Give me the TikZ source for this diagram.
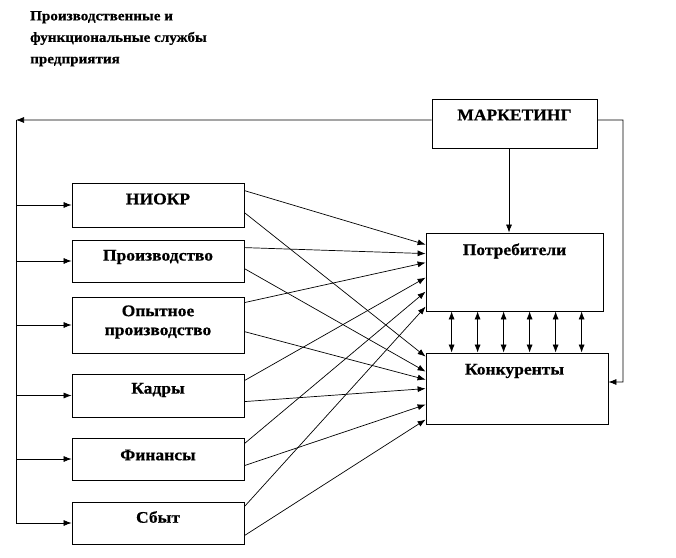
\documentclass[tikz,border=0pt]{standalone}
\usepackage{fontspec}
\setmainfont{Liberation Serif}
\newfontfamily\wideserif[FakeStretch=1.08,BoldFeatures={FakeBold=0.6}]{Liberation Serif}
\usetikzlibrary{arrows.meta}
\tikzset{
  box/.style={draw, line width=0.8bp, minimum width=172bp, minimum height=44bp, inner sep=0pt},
  lbl/.style={font=\wideserif\bfseries\fontsize{16.2bp}{19bp}\selectfont, align=center, inner sep=0pt},
  ttl/.style={font=\wideserif\bfseries\fontsize{14bp}{21.5bp}\selectfont, align=left, inner sep=0pt, anchor=north west},
  ln/.style={line width=0.7bp},
  arr/.style={line width=0.7bp, -{Latex[length=8bp,width=6bp]}},
  darr/.style={line width=0.7bp, {Latex[length=8bp,width=6bp]}-{Latex[length=8bp,width=6bp]}},
}
\begin{document}
\begin{tikzpicture}[x=1bp,y=-1bp]
\useasboundingbox (0,0) rectangle (676,558);
\node[ttl] (title) at (30,11) {Производственные и\\функциональные службы\\предприятия};

\node[box, minimum width=165bp, minimum height=49bp] (mkt) at (514.5,123.5) {};
\node[lbl] (mktt) at (514.5,115) {МАРКЕТИНГ};

\node[box, minimum width=177bp, minimum height=78bp] (potr) at (514.5,272) {};
\node[lbl] (potrt) at (514.5,251) {Потребители};
\node[box, minimum width=182bp, minimum height=71bp] (konk) at (517,388.5) {};
\node[lbl] (konkt) at (514.5,371) {Конкуренты};

\node[box] (niokr) at (158,205) {};
\node[lbl] at (158,199) {НИОКР};
\node[box, minimum height=42bp] (proizv) at (158,261) {};
\node[lbl] at (158,257) {Производство};
\node[box, minimum height=56bp] (opyt) at (158,325) {};
\node[lbl] at (158,322) {Опытное\\производство};
\node[box, minimum height=43bp] (kadry) at (158,395.5) {};
\node[lbl] at (158,390) {Кадры};
\node[box, minimum height=42bp] (fin) at (158,459) {};
\node[lbl] at (158,455) {Финансы};
\node[box, minimum height=42bp] (sbyt) at (158,523) {};
\node[lbl] at (158,517) {Сбыт};

% marketing feedback lines
\coordinate (lt) at (16,120);
\coordinate (lb) at (16,523);
\coordinate (rt) at (623,120);
\coordinate (rb) at (623,382);
\draw[arr] ([yshift=3.5bp]mkt.west) -- (lt);
\draw[ln] (lt) -- (lb);
\draw[arr] ([yshift=3.5bp]mkt.east) -- (rt) -- (rb) -- (rb -| konk.east);
\draw[arr] ([xshift=-5.5bp]mkt.south) -- ([xshift=-5.5bp]mkt.south |- potr.north);

\foreach \b in {niokr,proizv,opyt,kadry,fin,sbyt}
  \draw[arr] (lt |- \b.west) -- (\b.west);

% to consumers / competitors
\draw[arr] ([yshift=-8bp]niokr.north east) -- ([yshift=-12bp]potr.north west);
\draw[arr] ([yshift=-30bp]niokr.north east) -- ([yshift=-4bp]konk.north west);
\draw[arr] ([yshift=-8bp]proizv.north east) -- ([yshift=-21bp]potr.north west);
\draw[arr] ([yshift=-29bp]proizv.north east) -- ([yshift=-19bp]konk.north west);
\draw[arr] ([yshift=-6bp]opyt.north east) -- ([yshift=-30bp]potr.north west);
\draw[arr] ([yshift=-35bp]opyt.north east) -- ([yshift=-27bp]konk.north west);
\draw[arr] ([yshift=-7bp]kadry.north east) -- ([yshift=-45bp]potr.north west);
\draw[arr] ([yshift=-28bp]kadry.north east) -- ([yshift=-36bp]konk.north west);
\draw[arr] ([yshift=-6bp]fin.north east) -- ([yshift=-59bp]potr.north west);
\draw[arr] ([yshift=-28bp]fin.north east) -- ([yshift=-52bp]konk.north west);
\draw[arr] ([yshift=-5bp]sbyt.north east) -- ([yshift=-74bp]potr.north west);
\draw[arr] ([yshift=-34bp]sbyt.north east) -- ([yshift=-67bp]konk.north west);

% between consumers and competitors
\foreach \dx in {26,52,78,104,130,156}
  \draw[darr] ([xshift=\dx bp]potr.south west) -- ([xshift=\dx bp]potr.south west |- konk.north);
\end{tikzpicture}
\end{document}
